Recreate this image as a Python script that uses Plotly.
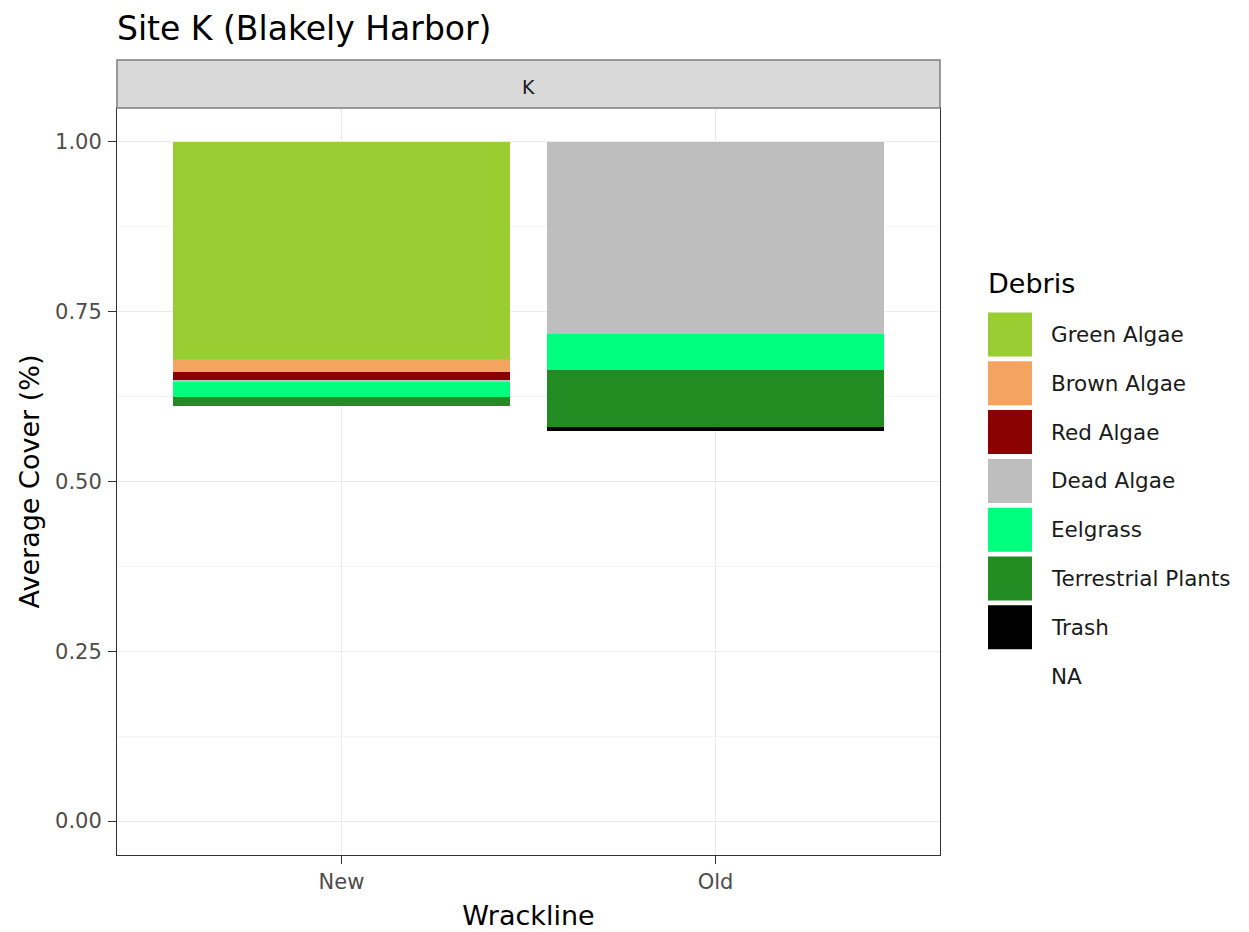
import plotly.graph_objects as go

# data (stacked shares per wrackline)
wrackline = ["New", "Old"]
debris = ["Green Algae", "Brown Algae", "Red Algae", "Dead Algae",
          "Eelgrass", "Terrestrial Plants", "Trash", "NA"]
debris_colors = ["#9ACD32", "#F4A460", "#8B0000", "#BEBEBE",
                 "#00FF7F", "#228B22", "#000000", "rgba(0,0,0,0)"]
green_algae = [0.319, 0.0]
brown_algae = [0.020, 0.0]
red_algae = [0.012, 0.0]
dead_algae = [0.003, 0.283]
eelgrass = [0.022, 0.053]
terrestrial = [0.013, 0.084]
trash = [0.0, 0.006]
na_cover = [0.611, 0.574]

values = {
    "Green Algae": green_algae,
    "Brown Algae": brown_algae,
    "Red Algae": red_algae,
    "Dead Algae": dead_algae,
    "Eelgrass": eelgrass,
    "Terrestrial Plants": terrestrial,
    "Trash": trash,
    "NA": na_cover,
}
y_ticks = [0, 0.25, 0.5, 0.75, 1.0]

OFF = 8                      # page body margin in the browser
W, H = 1249 - OFF, 932 - OFF
L, R, T, B = 117, 940, 108, 855   # panel in page pixels
FONT = "DejaVu Sans, Liberation Sans, Arial, sans-serif"


def px_x(p):
    return (p - L) / (R - L)


def px_y(p):
    return (B - p) / (B - T)


fig = go.Figure()

# plotly stacks bottom-up, ggplot put first level on top -> add reversed
for name, col in zip(reversed(debris), reversed(debris_colors)):
    fig.add_trace(go.Bar(x=wrackline, y=values[name], name=name,
                         marker=dict(color=col, line=dict(width=0)),
                         showlegend=False))

fig.update_layout(
    width=W, height=H,
    barmode="stack", bargap=0.1,
    plot_bgcolor="white", paper_bgcolor="white",
    margin=dict(l=L - OFF, r=W - (R - OFF), t=T - OFF, b=H - (B - OFF)),
    font=dict(family=FONT, color="#000000"),
    title=dict(text="Site K (Blakely Harbor)", x=(L - OFF) / W, xanchor="left",
               y=1 - (28 - OFF) / H, yanchor="middle",
               font=dict(size=33, color="#000000")),
)

fig.update_xaxes(
    range=[-0.6, 1.6], showgrid=True, gridcolor="#EBEBEB", gridwidth=1.2,
    ticks="outside", ticklen=8, tickcolor="#333333", automargin=False,
    tickfont=dict(size=21, color="#4D4D4D"),
    title=dict(text="Wrackline", font=dict(size=27, color="#000000"), standoff=12),
    showline=True, linecolor="#333333", mirror=True, linewidth=1, zeroline=False,
)
fig.update_yaxes(
    range=[-0.05, 1.05], tickvals=y_ticks, tickformat=".2f",
    showgrid=True, gridcolor="#EBEBEB", gridwidth=1.2,
    minor=dict(tickvals=[0.125, 0.375, 0.625, 0.875], showgrid=True,
               gridcolor="#F4F4F4", gridwidth=0.8),
    ticks="outside", ticklen=8, tickcolor="#333333", ticklabelstandoff=2,
    automargin=False,
    tickfont=dict(size=21, color="#4D4D4D"),
    title=dict(text="Average Cover (%)", font=dict(size=27, color="#000000"), standoff=7),
    showline=True, linecolor="#333333", mirror=True, linewidth=1, zeroline=False,
)

# facet strip
fig.add_shape(type="rect", xref="paper", yref="paper",
              x0=0, x1=1, y0=1, y1=px_y(60),
              fillcolor="#D9D9D9", line=dict(color="#7F7F7F", width=1.5))
fig.add_annotation(text="K", xref="paper", yref="paper", x=0.5, y=px_y(87),
                   yanchor="middle", showarrow=False,
                   font=dict(size=19, color="#1A1A1A"))

# legend drawn by hand to get ggplot-size keys
fig.add_annotation(text="Debris", xref="paper", yref="paper",
                   x=px_x(986), y=px_y(283), xanchor="left", yanchor="middle",
                   showarrow=False, font=dict(size=27, color="#000000"))
for i, (name, col) in enumerate(zip(debris, debris_colors)):
    cy = 334.5 + i * 48.8
    fig.add_shape(type="rect", xref="paper", yref="paper",
                  x0=px_x(988), x1=px_x(1032), y0=px_y(cy + 22), y1=px_y(cy - 22),
                  fillcolor=col, line=dict(width=0))
    fig.add_annotation(text=name, xref="paper", yref="paper",
                       x=px_x(1049), y=px_y(cy), xanchor="left", yanchor="middle",
                       showarrow=False, font=dict(size=21.5, color="#1A1A1A"))

fig.write_html("out.html")
